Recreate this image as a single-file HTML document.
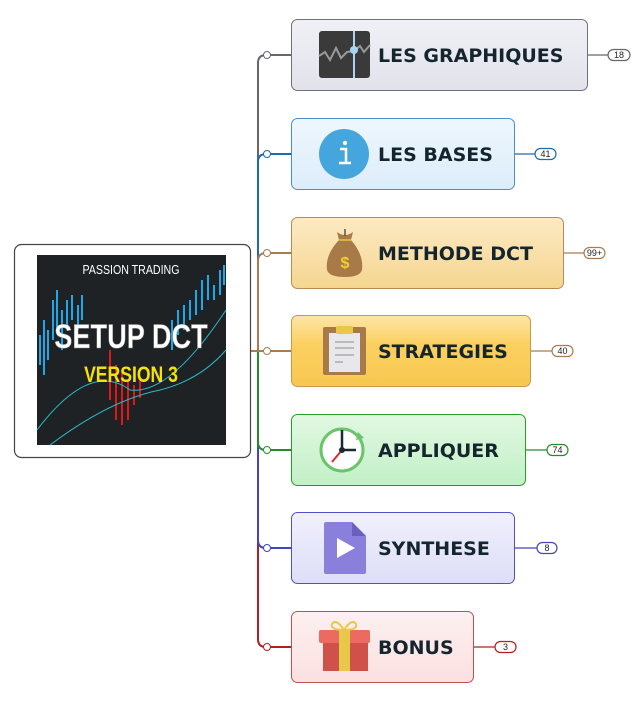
<!DOCTYPE html>
<html><head><meta charset="utf-8"><style>
body{margin:0;background:#fff;width:642px;height:703px;overflow:hidden}
svg{display:block}
.t{font-family:"DejaVu Sans","Liberation Sans",sans-serif;font-weight:bold;font-size:19px;fill:#14252e}
.c{font-family:"Liberation Sans",sans-serif;font-size:9px;fill:#222;text-anchor:middle}
</style></head><body>
<svg width="642" height="703" viewBox="0 0 642 703">
<defs>
<linearGradient id="g1" x1="0" y1="0" x2="0" y2="1"><stop offset="0" stop-color="#f0f0f6"/><stop offset="1" stop-color="#e2e2ec"/></linearGradient>
<linearGradient id="g2" x1="0" y1="0" x2="0" y2="1"><stop offset="0" stop-color="#eef7fe"/><stop offset="1" stop-color="#dcedfa"/></linearGradient>
<linearGradient id="g3" x1="0" y1="0" x2="0" y2="1"><stop offset="0" stop-color="#fdeac4"/><stop offset="1" stop-color="#f5d690"/></linearGradient>
<linearGradient id="g4" x1="0" y1="0" x2="0" y2="1"><stop offset="0" stop-color="#fde6a8"/><stop offset="0.4" stop-color="#fbd060"/><stop offset="1" stop-color="#f8c850"/></linearGradient>
<linearGradient id="g5" x1="0" y1="0" x2="0" y2="1"><stop offset="0" stop-color="#e2f8e2"/><stop offset="1" stop-color="#c2f0c6"/></linearGradient>
<linearGradient id="g6" x1="0" y1="0" x2="0" y2="1"><stop offset="0" stop-color="#f0f0fe"/><stop offset="1" stop-color="#dedef8"/></linearGradient>
<linearGradient id="g7" x1="0" y1="0" x2="0" y2="1"><stop offset="0" stop-color="#fdf0f0"/><stop offset="1" stop-color="#fbe0e0"/></linearGradient>
</defs>
<!-- connectors -->
<g fill="none" stroke-width="2">
<path d="M251 351 H258 V63 Q258 55 266 55 H291" stroke="#666670"/>
<path d="M251 351 H258 V639 Q258 647 266 647 H291" stroke="#b02020"/>
<path d="M251 351 H258 V162 Q258 154 266 154 H291" stroke="#1e6aaa"/>
<path d="M251 351 H258 V540 Q258 548 266 548 H291" stroke="#4444bb"/>
<path d="M258 351 V261 Q258 253 266 253 H291" stroke="#a87c50"/>
<path d="M258 351 V442 Q258 450 266 450 H291" stroke="#2a8a2a"/>
<path d="M251 351 H291" stroke="#a87c50"/>
</g>
<g fill="#fff" stroke-width="1">
<circle cx="267" cy="55" r="3.5" stroke="#666670"/>
<circle cx="267" cy="154" r="3.5" stroke="#1e6aaa"/>
<circle cx="267" cy="253" r="3.5" stroke="#a87c50"/>
<circle cx="267" cy="351" r="3.5" stroke="#a87c50"/>
<circle cx="267" cy="450" r="3.5" stroke="#2a8a2a"/>
<circle cx="267" cy="548" r="3.5" stroke="#4444bb"/>
<circle cx="267" cy="647" r="3.5" stroke="#b02020"/>
</g>
<!-- count lines + pills -->
<g stroke-width="1.2">
<path d="M588 55H608" stroke="#666"/><rect x="608" y="49.5" width="22" height="11" rx="5.5" fill="#fff" stroke="#666"/>
<path d="M515 154H535" stroke="#1e6aaa"/><rect x="535" y="148.5" width="21" height="11" rx="5.5" fill="#fff" stroke="#1e6aaa"/>
<path d="M564 253H584" stroke="#a87c50"/><rect x="584" y="247.5" width="21" height="11" rx="5.5" fill="#fff" stroke="#a87c50"/>
<path d="M531 351H552" stroke="#a87c50"/><rect x="552" y="345.5" width="21" height="11" rx="5.5" fill="#fff" stroke="#a87c50"/>
<path d="M526 450H547" stroke="#2a8a2a"/><rect x="547" y="444.5" width="21" height="11" rx="5.5" fill="#fff" stroke="#2a8a2a"/>
<path d="M515 548H537" stroke="#4444bb"/><rect x="537" y="542.5" width="20" height="11" rx="5.5" fill="#fff" stroke="#4444bb"/>
<path d="M474 647H495" stroke="#b02020"/><rect x="495" y="641.5" width="21" height="11" rx="5.5" fill="#fff" stroke="#b02020"/>
</g>
<text class="c" x="619" y="58">18</text><text class="c" x="545.5" y="157">41</text><text class="c" x="594.5" y="256">99+</text>
<text class="c" x="562.5" y="354">40</text><text class="c" x="557.5" y="453">74</text><text class="c" x="547" y="551">8</text><text class="c" x="505.5" y="650">3</text>
<!-- nodes -->
<rect x="291.5" y="19.5" width="296" height="71" rx="6" fill="url(#g1)" stroke="#707078"/>
<rect x="291.5" y="118.5" width="223" height="71" rx="6" fill="url(#g2)" stroke="#4a90c8"/>
<rect x="291.5" y="217.5" width="272" height="71" rx="6" fill="url(#g3)" stroke="#b88a5a"/>
<rect x="291.5" y="315.5" width="239" height="71" rx="6" fill="url(#g4)" stroke="#c89a4a"/>
<rect x="291.5" y="414.5" width="234" height="71" rx="6" fill="url(#g5)" stroke="#2a9a2a"/>
<rect x="291.5" y="512.5" width="223" height="71" rx="6" fill="url(#g6)" stroke="#5050c8"/>
<rect x="291.5" y="611.5" width="182" height="71" rx="6" fill="url(#g7)" stroke="#c05050"/>
<text class="t" x="378" y="62">LES GRAPHIQUES</text>
<text class="t" x="378" y="161">LES BASES</text>
<text class="t" x="378" y="260">METHODE DCT</text>
<text class="t" x="378" y="358">STRATEGIES</text>
<text class="t" x="378" y="457">APPLIQUER</text>
<text class="t" x="378" y="555">SYNTHESE</text>
<text class="t" x="378" y="654">BONUS</text>
<!-- icons -->
<rect x="319" y="31" width="51" height="47" rx="3" fill="#3a3a3a"/>
<line x1="354" y1="31" x2="354" y2="78" stroke="#a8d4f4" stroke-width="2"/>
<polyline points="319,56 325,52 330,60 336,48 341,58 347,52 354,51 360,46 364,52 370,45" fill="none" stroke="#999" stroke-width="2"/>
<circle cx="354" cy="50" r="4" fill="#a8d4f4"/>
<circle cx="344" cy="154" r="25" fill="#45a6de"/>
<circle cx="345" cy="143" r="2.2" fill="#fff"/>
<path d="M340 149H346V163M339 163H351" stroke="#fff" stroke-width="2.5" fill="none"/>
<path d="M337 232 Q345 238 353 232 L351 240 Q364 255 362 270 Q360 277 345 277 Q329 277 327 270 Q325 255 339 240 Z" fill="#a87a48"/>
<line x1="339" y1="240" x2="351" y2="240" stroke="#e8c830" stroke-width="1.5"/>
<line x1="345" y1="229" x2="345" y2="236" stroke="#555" stroke-width="1.5"/>
<text x="345" y="268" font-family="Liberation Sans,sans-serif" font-size="16" font-weight="bold" fill="#f0d030" text-anchor="middle">$</text>
<rect x="323" y="327" width="43" height="48" rx="2" fill="#a87a48"/>
<rect x="329" y="333" width="31" height="39" fill="#e8e8ec"/>
<rect x="336" y="326" width="17" height="8" rx="2" fill="#e8c848"/>
<g stroke="#aaa" stroke-width="1.5"><line x1="335" y1="342" x2="354" y2="342"/><line x1="335" y1="348" x2="354" y2="348"/><line x1="335" y1="355" x2="354" y2="355"/><line x1="335" y1="362" x2="343" y2="362"/></g>
<circle cx="342" cy="450" r="21" fill="#fff" stroke="#6ac46a" stroke-width="3"/>
<path d="M358 432 L364 438 L356 440 Z" fill="#6ac46a"/>
<path d="M342 430V450H356" stroke="#1a2a33" stroke-width="2.5" fill="none"/>
<line x1="342" y1="450" x2="332" y2="462" stroke="#d03030" stroke-width="2"/>
<circle cx="342" cy="450" r="3" fill="#1a2a33"/>
<path d="M326 522 H352 L366 536 V572 Q366 574 364 574 H326 Q324 574 324 572 V524 Q324 522 326 522Z" fill="#8a80dc"/>
<path d="M352 522 L366 536 H352Z" fill="#6a60c0"/>
<path d="M337 538 L355 548 L337 558Z" fill="#fff"/>
<rect x="323" y="634" width="45" height="37" fill="#d0504a"/>
<rect x="319" y="630" width="51" height="13" rx="2" fill="#ec6a60"/>
<rect x="339" y="630" width="11" height="41" fill="#e8c848"/>
<path d="M344 630 Q336 618 332 624 Q330 630 344 630 Q358 630 356 624 Q352 618 344 630" fill="none" stroke="#e8c848" stroke-width="2"/>
<!-- center -->
<rect x="14.5" y="244.5" width="236" height="213" rx="7" fill="#fff" stroke="#444" stroke-width="1.2"/>
<rect x="37" y="255" width="189" height="190" fill="#1f2224"/>
<g stroke="#1ea8e8" stroke-width="2">
<line x1="40" y1="335" x2="40" y2="365"/><line x1="44" y1="320" x2="44" y2="375"/><line x1="48" y1="330" x2="48" y2="360"/><line x1="53" y1="300" x2="53" y2="340"/><line x1="57" y1="290" x2="57" y2="330"/><line x1="62" y1="310" x2="62" y2="350"/><line x1="67" y1="300" x2="67" y2="325"/><line x1="72" y1="295" x2="72" y2="320"/><line x1="78" y1="305" x2="78" y2="330"/><line x1="82" y1="295" x2="82" y2="320"/>
<line x1="172" y1="320" x2="172" y2="350"/><line x1="178" y1="310" x2="178" y2="335"/><line x1="184" y1="305" x2="184" y2="330"/><line x1="190" y1="300" x2="190" y2="320"/><line x1="196" y1="290" x2="196" y2="315"/><line x1="202" y1="280" x2="202" y2="310"/><line x1="208" y1="275" x2="208" y2="300"/><line x1="214" y1="285" x2="214" y2="300"/><line x1="220" y1="270" x2="220" y2="295"/><line x1="224" y1="265" x2="224" y2="285"/>
</g>
<g stroke="#e01818" stroke-width="2"><line x1="110" y1="350" x2="110" y2="400"/><line x1="116" y1="365" x2="116" y2="420"/><line x1="122" y1="370" x2="122" y2="425"/><line x1="128" y1="380" x2="128" y2="420"/><line x1="134" y1="385" x2="134" y2="405"/><line x1="140" y1="380" x2="140" y2="398"/></g>
<path d="M37 430 Q90 360 130 390 Q170 395 226 310" stroke="#2ab8c8" fill="none"/>
<path d="M50 445 Q110 400 160 390 Q200 380 226 350" stroke="#2ab8c8" fill="none"/>
<text x="131" y="274" font-family="Liberation Sans,sans-serif" font-size="12.5" fill="#fff" text-anchor="middle" transform="translate(131 0) scale(0.85 1) translate(-131 0)">PASSION TRADING</text>
<text x="131" y="348" font-family="Liberation Sans,sans-serif" font-weight="bold" font-size="34" fill="#fff" text-anchor="middle" stroke="#888" stroke-width="0.5" transform="translate(131 0) scale(0.8 1) translate(-131 0)">SETUP DCT</text>
<text x="131" y="382" font-family="Liberation Sans,sans-serif" font-weight="bold" font-size="22" fill="#f4e20a" text-anchor="middle" transform="translate(131 0) scale(0.8 1) translate(-131 0)">VERSION 3</text>
</svg>
</body></html>
